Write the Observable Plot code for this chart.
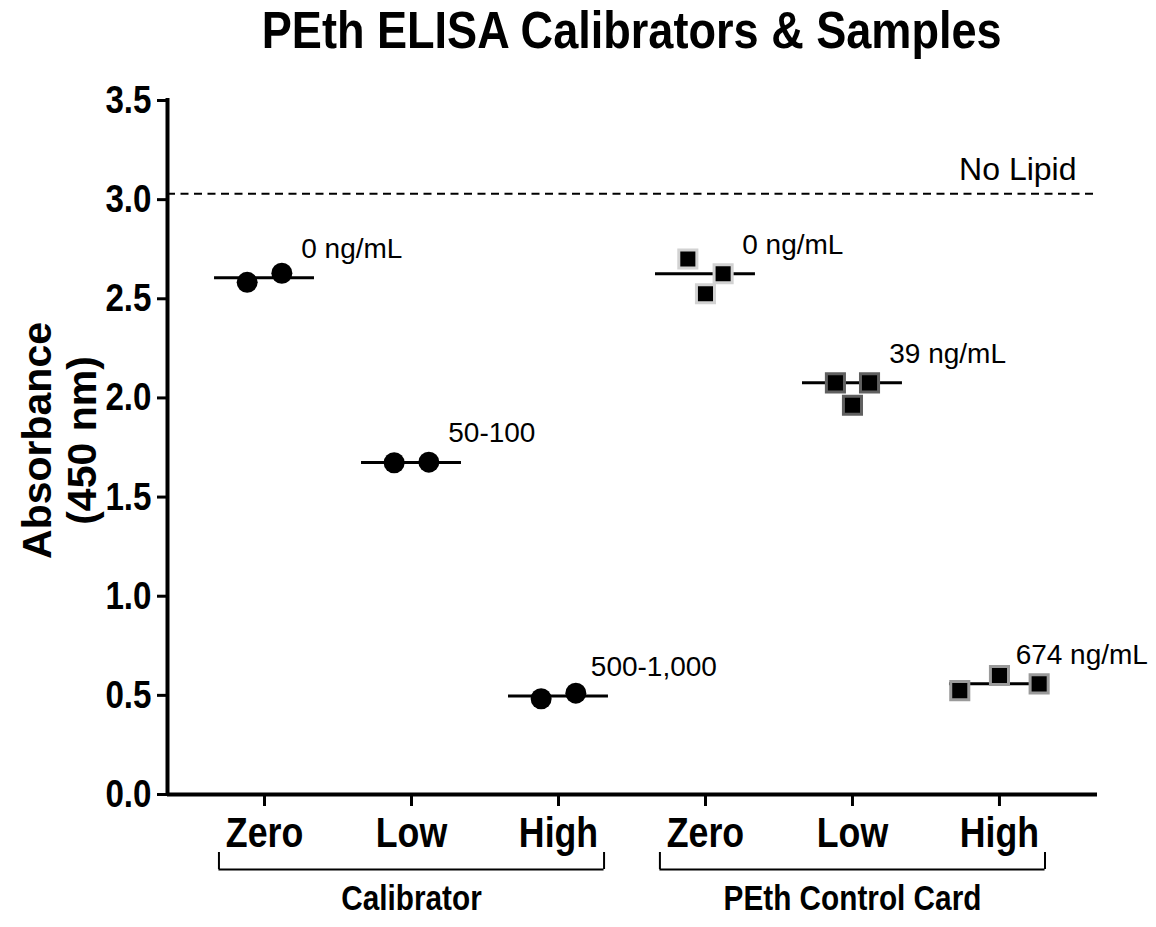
<!DOCTYPE html>
<html><head><meta charset="utf-8">
<script src="https://cdn.jsdelivr.net/npm/d3@7"></script>
<script src="https://cdn.jsdelivr.net/npm/@observablehq/plot@0.6"></script>
<style>
body{margin:0;background:#fff;}
#title{height:70px;width:1156px;box-sizing:border-box;padding-left:167px;padding-right:59px;text-align:center;
  font:bold 52px/60px 'Liberation Sans',Arial,sans-serif;color:#000;white-space:nowrap;overflow:visible;}
#title span{display:inline-block;transform:scaleX(0.867);transform-origin:50% 50%;}
</style></head><body>
<div id="title"><span>PEth ELISA Calibrators &amp; Samples</span></div>
<div id="chart"></div>
<script>
// ---- data ----
const categories = ["Zero", "Low", "High", "Zero", "Low", "High"];
const groupNames = ["Calibrator", "PEth Control Card"];
const groupOf = [0, 0, 0, 1, 1, 1];
const concLabels = ["0 ng/mL", "50-100", "500-1,000", "0 ng/mL", "39 ng/mL", "674 ng/mL"];
const calZero = [2.583, 2.629];
const calLow = [1.673, 1.676];
const calHigh = [0.483, 0.511];
const cardZero = [2.701, 2.626, 2.525];
const cardLow = [2.076, 2.076, 1.963];
const cardHigh = [0.524, 0.600, 0.558];
// horizontal spread of replicates within a category (category units)
const spread2 = [-0.118, 0.118];
const spreadCardZero = [-0.12, 0.12, 0.0];
const spreadCardLow = [-0.116, 0.116, 0.0];
const spreadCardHigh = [-0.27, 0.0, 0.27];
const noLipid = 3.03;
const yTicks = [0, 0.5, 1.0, 1.5, 2.0, 2.5, 3.0, 3.5];

// ---- layout / styles ----
const REG = "'Liberation Sans',Arial,sans-serif";
const borderColors = ["#d2d2d2", "#606060", "#9a9a9a"];
const labelShift = [0.25, 0.25, 0.22, 0.25, 0.25, 0.11]; // label start, category units right of centre
const NARROW_SCALE = 0.85;

const series = [calZero, calLow, calHigh, cardZero, cardLow, cardHigh];
const spreads = [spread2, spread2, spread2, spreadCardZero, spreadCardLow, spreadCardHigh];

const points = series.flatMap((vals, i) => vals.map((v, j) => ({cat: i, x: i + spreads[i][j], y: v, group: groupOf[i]})));
const medians = series.map((vals, i) => ({cat: i, m: d3.median(vals), label: concLabels[i]}));
const brackets = groupNames.map((g, k) => {
  const idx = d3.range(categories.length).filter(i => groupOf[i] === k);
  return {name: g, start: d3.min(idx), end: d3.max(idx)};
});
const bracketEnds = brackets.flatMap(b => [b.start - 0.31, b.end + 0.31]);

const xDomain = [-0.66, 5.667];

const chart = Plot.plot({
  width: 1156,
  height: 857,
  marginTop: 30,
  marginBottom: 133,
  marginLeft: 167,
  marginRight: 59,
  x: {type: "linear", domain: xDomain, axis: null},
  y: {domain: [0, 3.5], axis: null},
  color: {type: "identity"},
  style: {background: "#fff", color: "#000", overflow: "visible"},
  marks: [
    // dashed "No Lipid" reference
    Plot.ruleY([noLipid], {stroke: "#000", strokeWidth: 2, strokeDasharray: "8,5.5"}),
    Plot.text(["No Lipid"], {x: xDomain[1], y: noLipid, text: d => d, textAnchor: "end", lineAnchor: "bottom",
      dx: -21, dy: -14, fontSize: 32, fontFamily: REG, fill: "#000"}),
    // median lines
    Plot.ruleY(medians, {y: "m", x1: d => d.cat - 0.34, x2: d => d.cat + 0.34, stroke: "#000", strokeWidth: 3}),
    // calibrator circles
    Plot.dot(points.filter(d => d.group === 0), {x: "x", y: "y", r: 10.5, fill: "#000", stroke: "none", symbol: "circle"}),
    // control-card squares
    Plot.dot(points.filter(d => d.group === 1), {x: "x", y: "y", r: 10.2, symbol: "square", fill: "#000",
      stroke: d => borderColors[d.cat % 3], strokeWidth: 3}),
    // concentration labels
    Plot.text(medians, {x: d => d.cat + labelShift[d.cat], y: "m", text: "label", textAnchor: "start", lineAnchor: "bottom",
      dy: -20, fontSize: 28, fontFamily: REG, fill: "#000"}),
    // axes lines
    Plot.ruleY([0], {stroke: "#000", strokeWidth: 4}),
    Plot.ruleX([xDomain[0]], {stroke: "#000", strokeWidth: 4, strokeLinecap: "square"}),
    Plot.axisY({ticks: yTicks, tickFormat: d3.format(".1f"), tickSize: 10, tickPadding: 6, strokeWidth: 3,
      fontSize: 39, fontWeight: "bold", fontFamily: REG, label: null, anchor: "left"}),
    Plot.axisX({ticks: d3.range(categories.length), tickFormat: i => categories[i], tickSize: 12, tickPadding: 11,
      strokeWidth: 3, fontSize: 42, fontWeight: "bold", fontFamily: REG, label: null, anchor: "bottom"}),
    // y-axis title
    Plot.text(["Absorbance\n(450 nm)"], {frameAnchor: "left", text: d => d, rotate: -90, dx: -108, dy: -7,
      textAnchor: "middle", lineAnchor: "middle",
      fontSize: 41, fontWeight: "bold", fontFamily: REG, lineHeight: 1.1, fill: "#000"}),
    // group brackets
    Plot.ruleY(brackets, {y: () => 0, x1: d => d.start - 0.31, x2: d => d.end + 0.31, dy: 75, stroke: "#000", strokeWidth: 2}),
    Plot.ruleX(bracketEnds, {x: d => d, y1: () => 0, y2: () => 0, insetTop: 58, insetBottom: -75, stroke: "#000", strokeWidth: 2}),
    Plot.text(brackets, {x: d => (d.start + d.end) / 2, y: () => 0, text: "name", lineAnchor: "top", dy: 91,
      fontSize: 35, fontWeight: "bold", fontFamily: REG, fill: "#000"})
  ]
});
document.getElementById("chart").appendChild(chart);

// condense the bold single-line labels (ticks, group names) like the narrow face of the original
d3.select(chart).selectAll("g[font-weight='bold'] > text").each(function () {
  if (this.querySelector("tspan")) return; // multi-line axis title keeps normal width
  const len = this.getComputedTextLength();
  this.setAttribute("textLength", (len * NARROW_SCALE).toFixed(1));
  this.setAttribute("lengthAdjust", "spacingAndGlyphs");
});
</script>
</body></html>
